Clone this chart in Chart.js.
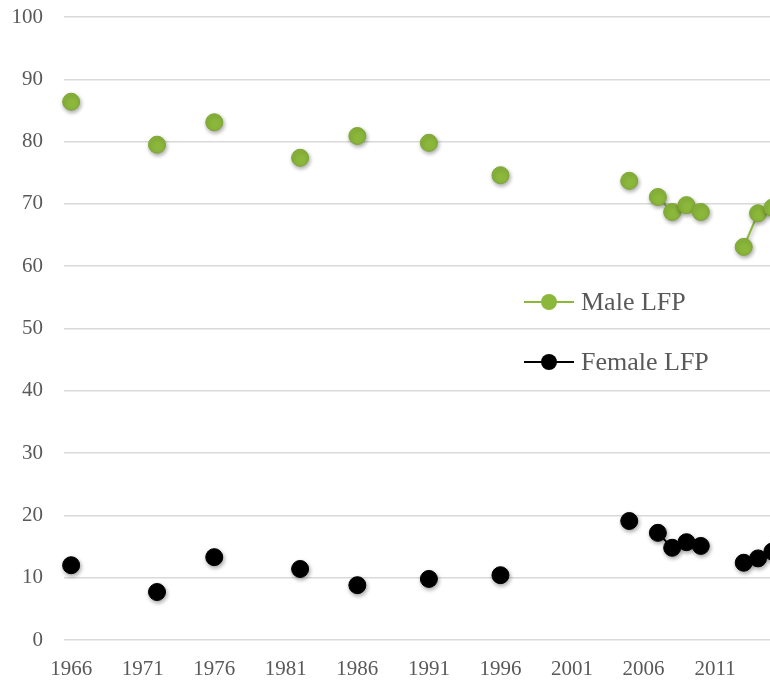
<!DOCTYPE html>
<html>
<head>
<meta charset="utf-8">
<script src="https://cdn.jsdelivr.net/npm/chart.js@4/dist/chart.umd.min.js"></script>
<style>
    html, body { margin: 0; padding: 0; background: #ffffff; overflow: hidden; }
    #wrap { position: relative; width: 789px; height: 683px; }
    #lfpChart { width: 789px; height: 683px; }
</style>
</head>
<body>
<div id="wrap"><canvas id="lfpChart" width="789" height="683"></canvas></div>
<script>
// Anos do eixo (um por categoria) e anos com inquérito
const firstYear = 1966;
const lastYear = 2015;
const surveyYears = [1966, 1972, 1976, 1982, 1986, 1991, 1996, 2005, 2007, 2008, 2009, 2010, 2013, 2014, 2015];
const maleLFP   = [86.4, 79.5, 83.1, 77.4, 80.9, 79.8, 74.6, 73.7, 71.1, 68.7, 69.8, 68.7, 63.1, 68.5, 69.4];
const femaleLFP = [12.0, 7.7, 13.3, 11.4, 8.8, 9.8, 10.4, 19.1, 17.2, 14.8, 15.7, 15.1, 12.4, 13.1, 14.2];
const yTicks = [0, 10, 20, 30, 40, 50, 60, 70, 80, 90, 100];

const years = [];
for (let y = firstYear; y <= lastYear; y++) years.push(String(y));

function toSeries(values) {
    return years.map(y => {
        const i = surveyYears.indexOf(Number(y));
        return i >= 0 ? values[i] : null;
    });
}

const FONT = "'Liberation Serif', 'DejaVu Serif', serif";
const TEXT = '#595959';
const MALE = '#8bb83b';
const MALE_EDGE = '#7ea534';
const FEMALE = '#000000';

// Sombra suave por baixo dos pontos
const shadowPlugin = {
    id: 'shadow',
    beforeDatasetsDraw(chart) {
        const ctx = chart.ctx;
        ctx.save();
        ctx.shadowColor = 'rgba(0, 0, 0, 0.35)';
        ctx.shadowBlur = 4;
        ctx.shadowOffsetX = 1;
        ctx.shadowOffsetY = 2;
    },
    afterDatasetsDraw(chart) {
        chart.ctx.restore();
    }
};

// Legenda dentro da área do gráfico
const legendPlugin = {
    id: 'inlineLegend',
    afterDraw(chart) {
        const ctx = chart.ctx;
        const rows = [302, 362];
        chart.data.datasets.forEach((ds, i) => {
            const y = rows[i];
            ctx.save();
            ctx.strokeStyle = ds.borderColor;
            ctx.lineWidth = 2;
            ctx.beginPath();
            ctx.moveTo(524, y);
            ctx.lineTo(574, y);
            ctx.stroke();
            ctx.fillStyle = ds.pointBackgroundColor;
            ctx.beginPath();
            ctx.arc(549, y, 8, 0, Math.PI * 2);
            ctx.fill();
            ctx.fillStyle = TEXT;
            ctx.font = '26px ' + FONT;
            ctx.textBaseline = 'middle';
            ctx.textAlign = 'left';
            ctx.fillText(ds.label, 581, y + 1);
            ctx.restore();
        });
    }
};

const ctx = document.getElementById('lfpChart').getContext('2d');
new Chart(ctx, {
    type: 'line',
    data: {
        labels: years,
        datasets: [{
            label: 'Male LFP',
            data: toSeries(maleLFP),
            borderColor: MALE,
            borderWidth: 2,
            pointRadius: 8.5,
            pointBackgroundColor: MALE,
            pointBorderColor: MALE_EDGE,
            pointBorderWidth: 1,
            spanGaps: false
        }, {
            label: 'Female LFP',
            data: toSeries(femaleLFP),
            borderColor: FEMALE,
            borderWidth: 2,
            pointRadius: 8.5,
            pointBackgroundColor: FEMALE,
            pointBorderColor: FEMALE,
            pointBorderWidth: 1,
            spanGaps: false
        }]
    },
    options: {
        responsive: false,
        animation: false,
        layout: { padding: { top: 17, right: 1, bottom: 0, left: 0 } },
        plugins: {
            legend: { display: false },
            tooltip: { enabled: false }
        },
        scales: {
            x: {
                type: 'category',
                offset: true,
                grid: { display: false, drawTicks: false },
                border: { display: false },
                ticks: {
                    autoSkip: false,
                    maxRotation: 0,
                    padding: 17,
                    color: TEXT,
                    font: { family: FONT, size: 21 },
                    callback: function(val, idx) {
                        const y = Number(this.getLabelForValue(val));
                        return (y - firstYear) % 5 === 0 ? String(y) : '';
                    }
                },
                afterFit(scale) {
                    scale.height = 43;
                    scale.paddingLeft = 0;
                    scale.paddingRight = 0;
                }
            },
            y: {
                min: 0,
                max: 100,
                afterBuildTicks(scale) { scale.ticks = yTicks.map(v => ({ value: v })); },
                grid: { color: '#d9d9d9', lineWidth: 1.5, drawTicks: false },
                border: { display: false },
                ticks: {
                    padding: 21,
                    color: TEXT,
                    font: { family: FONT, size: 21 }
                },
                afterFit(scale) {
                    scale.width = 64;
                    scale.paddingTop = 0;
                    scale.paddingBottom = 0;
                }
            }
        }
    },
    plugins: [shadowPlugin, legendPlugin]
});
</script>
</body>
</html>
